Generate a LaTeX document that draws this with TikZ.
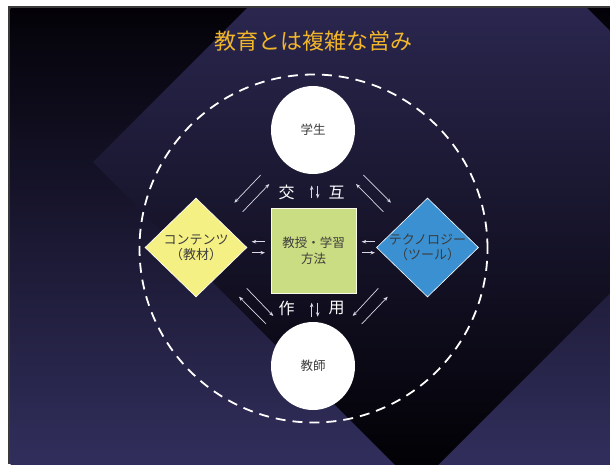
\documentclass[tikz,border=0pt]{standalone}
\usepackage{fontspec}
\setmainfont{Noto Sans CJK JP}
\usetikzlibrary{shapes.geometric,arrows.meta}
\definecolor{framegray}{HTML}{3A3A3A}
\definecolor{outtop}{HTML}{040208}
\definecolor{outbot}{HTML}{312E5C}
\definecolor{intop}{HTML}{2A264E}
\definecolor{inbot}{HTML}{020105}
\definecolor{titlecol}{HTML}{F2B62A}
\definecolor{yel}{HTML}{F5F083}
\definecolor{blu}{HTML}{3A90D0}
\definecolor{grn}{HTML}{CBDD83}
\definecolor{txtgray}{HTML}{3C3C3C}
\definecolor{arrowcol}{HTML}{D8D8E6}
\tikzset{
  titletext/.style={text=titlecol, font=\fontsize{22}{26}\selectfont, inner sep=0},
  roundbox/.style={ellipse, fill=white, minimum width=84, minimum height=88, inner sep=0,
    text=txtgray, font=\fontsize{12.5}{15}\selectfont},
  methbox/.style={rectangle, fill=grn, draw=white!85!grn, line width=0.6pt, minimum size=85, inner sep=0,
    text=txtgray, align=center, font=\fontsize{12.5}{15.6}\selectfont},
  diabox/.style={diamond, draw=white, line width=0.6pt, minimum width=102, minimum height=99, inner sep=0},
  diatext/.style={text=txtgray, align=center, inner sep=0, font=\fontsize{13}{15}\selectfont},
  midtext/.style={text=white, inner sep=0, font=\fontsize{16}{18}\selectfont},
  flow/.style={draw=arrowcol, line width=0.7pt, -{Stealth[length=4.5pt,width=3.5pt]}},
  ringstyle/.style={circle, draw=white, line width=1.8pt, dash pattern=on 10pt off 7pt, minimum size=348, inner sep=0}
}
\begin{document}
\begin{tikzpicture}[x=1pt,y=-1pt]
\useasboundingbox (0,0) rectangle (610,464);
\fill[white] (0,0) rectangle (610,464);
\fill[framegray] (8,6) rectangle (610,464);
\shade[top color=outtop, bottom color=outbot] (10.5,8.5) rectangle (610,464);
\begin{scope}
  \clip (10.5,8.5) rectangle (610,464);
  \clip (93,162) -- (417,-162) -- (741,162) -- (416.5,486.5) -- cycle;
  \shade[top color=intop, bottom color=inbot] (10.5,8.5) rectangle (610,464);
\end{scope}

\node[titletext] (title) at (313,41) {教育とは複雑な営み};

\node[ringstyle] (ring) at (313.5,248.5) {};

\node[roundbox] (stu) at (313,130) {学生};
\node[roundbox] (tea) at (313,366) {教師};
\node[methbox] (meth) at (313.5,250.5) {教授・学習\\方法};
\node[diabox, fill=yel] (cont) at (196,247.5) {};
\node[diatext] (conttext) at (cont.center) {コンテンツ\\（教材）};
\node[diabox, fill=blu] (tech) at (427.5,247.5) {};
\node[diatext] (techtext) at (tech.center) {テクノロジー\\（ツール）};

\node[midtext] (jiao) at (286.7,192.3) {交};
\node[midtext] (hu) at (336.7,192.3) {互};
\node[midtext] (zuo) at (286.7,308.3) {作};
\node[midtext] (yong) at (336.7,308.3) {用};

% diagonal arrow pairs
\coordinate (a1) at (260.7,175);   \coordinate (a2) at (234.3,202.7);
\coordinate (b1) at (242.7,211.7); \coordinate (b2) at (269.3,184);
\coordinate (c1) at (363.3,175);   \coordinate (c2) at (391,202.7);
\coordinate (d1) at (383.3,211.7); \coordinate (d2) at (356,184);
\coordinate (e1) at (246.7,288.3); \coordinate (e2) at (273.3,316);
\coordinate (f1) at (266,324);     \coordinate (f2) at (239,296.7);
\coordinate (g1) at (378.3,288.3); \coordinate (g2) at (352.7,316);
\coordinate (h1) at (361.7,324);   \coordinate (h2) at (387.7,296.7);
% horizontal pairs
\coordinate (l1) at (265,241.7);   \coordinate (l2) at (251.7,241.7);
\coordinate (m1) at (251.7,252.7); \coordinate (m2) at (265,252.7);
\coordinate (r1) at (375,241.7);   \coordinate (r2) at (361.7,241.7);
\coordinate (s1) at (361.7,252.7); \coordinate (s2) at (375,252.7);
% vertical pairs
\coordinate (u1) at (311.7,198.3); \coordinate (u2) at (311.7,185.5);
\coordinate (v1) at (317.7,185.5); \coordinate (v2) at (317.7,198.3);
\coordinate (w1) at (311.7,316.7); \coordinate (w2) at (311.7,302.7);
\coordinate (z1) at (317.7,302.7); \coordinate (z2) at (317.7,316.7);

\foreach \p in {a,b,c,d,e,f,g,h,l,m,r,s,u,v,w,z}
  \draw[flow] (\p1) -- (\p2);
\end{tikzpicture}
\end{document}
